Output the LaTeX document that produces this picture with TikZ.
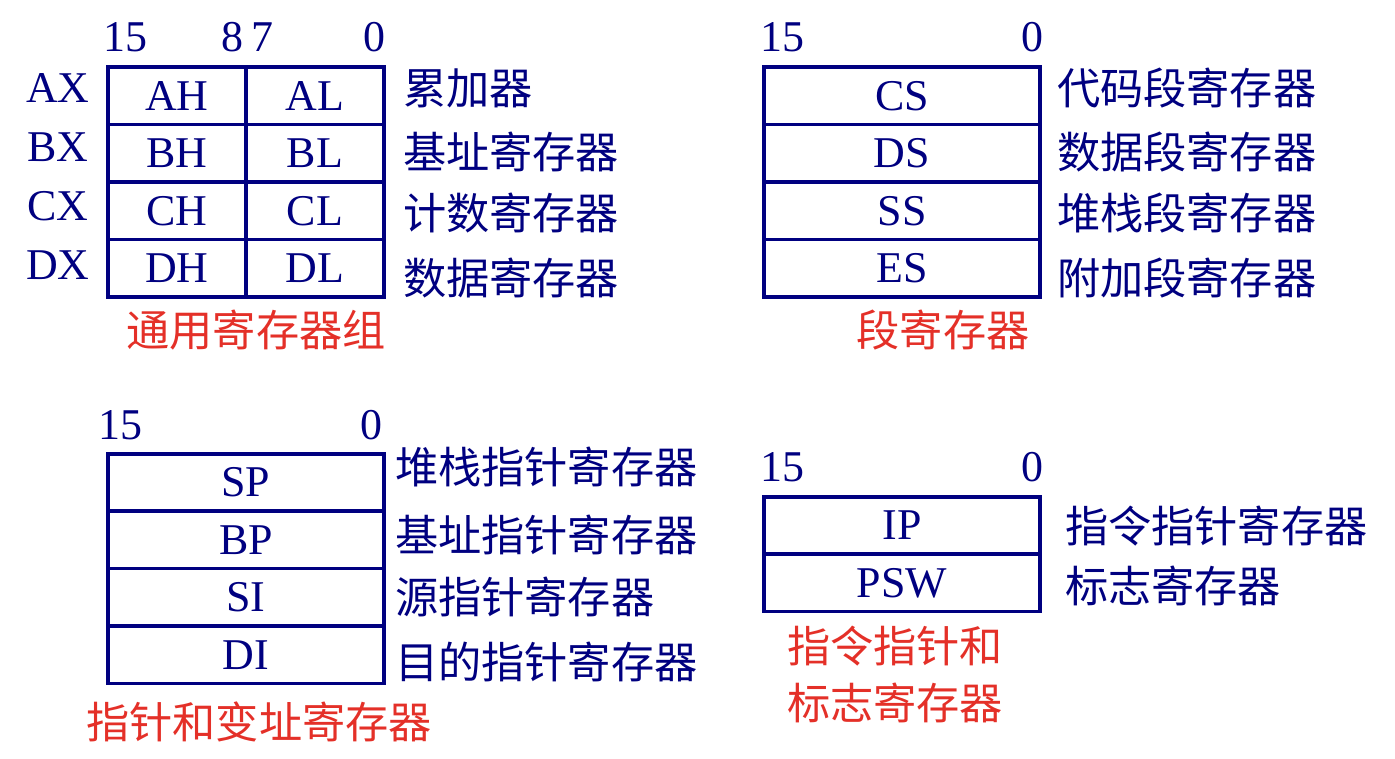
\documentclass[tikz,border=0pt]{standalone}
\usepackage{fontspec}
\setmainfont{Liberation Serif}
\newfontfamily\cjk{Noto Sans CJK SC}
\usepackage{xcolor}
\usepackage{tikz}
\usetikzlibrary{
  positioning
}
\definecolor{regblue}{RGB}{0,0,128}
\definecolor{capred}{RGB}{228,48,40}

\begin{document}
\begin{tikzpicture}[
        x=0.02cm, y=-0.02cm,
        every node/.style={inner sep=0pt, outer sep=0pt, font=\fontsize{25}{29}\selectfont, text=regblue},
        halfcell/.style={draw=regblue, line width=2pt, minimum width=2.76cm, minimum height=1.15cm},
        fullcell/.style={draw=regblue, line width=2pt, minimum width=5.52cm, minimum height=1.15cm},
        desc/.style={anchor=west, font=\fontsize{24.6}{29}\selectfont\cjk},
        caption/.style={font=\fontsize{24.6}{29}\selectfont\cjk, text=capred}
    ]
        \useasboundingbox (0,0) rectangle (1395,759);

        % Registradores gerais
        \node (g15) at (125,37) {15};
        \node (g8) at (232,37) {8};
        \node (g7) at (262,37) {7};
        \node (g0) at (374,37) {0};
        \node[halfcell] (AH) at (177,96) {AH};
        \node[halfcell, right=0pt of AH] (AL) {AL};
        \node[halfcell, below=0pt of AH] (BH) {BH};
        \node[halfcell, right=0pt of BH] (BL) {BL};
        \node[halfcell, below=0pt of BH] (CH) {CH};
        \node[halfcell, right=0pt of CH] (CL) {CL};
        \node[halfcell, below=0pt of CH] (DH) {DH};
        \node[halfcell, right=0pt of DH] (DL) {DL};
        \node (AX) at (58,88) {AX};
        \node (BX) at (58,147) {BX};
        \node (CX) at (58,206) {CX};
        \node (DX) at (58,265) {DX};
        \node[desc] (dAX) at (403,88) {累加器};
        \node[desc] (dBX) at (403,152) {基址寄存器};
        \node[desc] (dCX) at (403,213) {计数寄存器};
        \node[desc] (dDX) at (403,278) {数据寄存器};
        \node[caption] (capGen) at (256,330) {通用寄存器组};

        % Registradores de segmento
        \node (s15) at (782,37) {15};
        \node (s0) at (1032,37) {0};
        \node[fullcell] (CS) at (902,96) {CS};
        \node[fullcell, below=0pt of CS] (DS) {DS};
        \node[fullcell, below=0pt of DS] (SS) {SS};
        \node[fullcell, below=0pt of SS] (ES) {ES};
        \node[desc] (dCS) at (1057,88) {代码段寄存器};
        \node[desc] (dDS) at (1057,152) {数据段寄存器};
        \node[desc] (dSS) at (1057,213) {堆栈段寄存器};
        \node[desc] (dES) at (1057,278) {附加段寄存器};
        \node[caption] (capSeg) at (943,330) {段寄存器};

        % Ponteiros e indices
        \node (p15) at (120,425) {15};
        \node (p0) at (371,425) {0};
        \node[fullcell] (SP) at (246,482.5) {SP};
        \node[fullcell, below=0pt of SP] (BP) {BP};
        \node[fullcell, below=0pt of BP] (SI) {SI};
        \node[fullcell, below=0pt of SI] (DI) {DI};
        \node[desc] (dSP) at (395,467) {堆栈指针寄存器};
        \node[desc] (dBP) at (395,535) {基址指针寄存器};
        \node[desc] (dSI) at (395,597) {源指针寄存器};
        \node[desc] (dDI) at (395,662) {目的指针寄存器};
        \node[caption] (capPtr) at (259,722) {指针和变址寄存器};

        % IP e flags
        \node (f15) at (782,467) {15};
        \node (f0) at (1032,467) {0};
        \node[fullcell] (IP) at (902,525.5) {IP};
        \node[fullcell, below=0pt of IP] (PSW) {PSW};
        \node[desc] (dIP) at (1065,526) {指令指针寄存器};
        \node[desc] (dPSW) at (1065,586) {标志寄存器};
        \node[caption, anchor=west] (capFlag1) at (787,646) {指令指针和};
        \node[caption, anchor=west] (capFlag2) at (787,703) {标志寄存器};
    \end{tikzpicture}
\end{document}
